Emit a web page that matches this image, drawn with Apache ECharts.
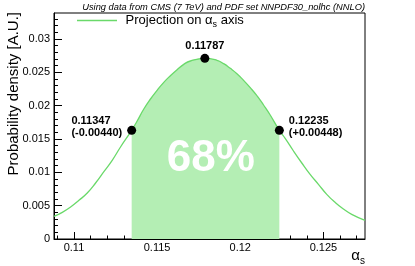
<!DOCTYPE html>
<html>
<head>
<meta charset="utf-8">
<script src="https://cdn.jsdelivr.net/npm/echarts@6/dist/echarts.min.js"></script>
<style>
html,body{margin:0;padding:0;background:#fff;}
#c{width:415px;height:266px;}
</style>
</head>
<body>
<div id="c"></div>
<script>
// ---- data ----
const curveX = [0.1088, 0.1093, 0.1098, 0.1103, 0.1108, 0.1113, 0.1118, 0.1123, 0.1128, 0.11347,
  0.1138, 0.1142, 0.1146, 0.1150, 0.1154, 0.1158, 0.1162, 0.1166, 0.1170, 0.11787,
  0.1186, 0.1190, 0.1194, 0.1198, 0.1202, 0.1206, 0.1210, 0.1214, 0.1218, 0.12235,
  0.1227, 0.1232, 0.1237, 0.1242, 0.1247, 0.1252, 0.1257, 0.1262, 0.1267, 0.1275];
const curveY = [0.0034, 0.0040, 0.0048, 0.0058, 0.0069, 0.0084, 0.0101, 0.0118, 0.0138, 0.0163,
  0.0177, 0.0195, 0.0210, 0.0223, 0.0235, 0.0245, 0.0254, 0.0262, 0.0267, 0.0271,
  0.0268, 0.0263, 0.0256, 0.0248, 0.0238, 0.0227, 0.0215, 0.0201, 0.0186, 0.0163,
  0.0151, 0.0132, 0.0114, 0.0097, 0.0082, 0.0067, 0.0055, 0.0045, 0.0037, 0.0028];
const bandLow = 0.11347;
const bandHigh = 0.12235;
const pointX = [0.11347, 0.11787, 0.12235];
const pointY = [0.0163, 0.0271, 0.0163];
const pointText = [['0.11347', '(-0.00440)'], ['0.11787'], ['0.12235', '(+0.00448)']];
const xMajorTicks = [0.11, 0.115, 0.12, 0.125];
const xMinorTicks = [0.109, 0.111, 0.112, 0.113, 0.114, 0.116, 0.117, 0.118, 0.119,
  0.121, 0.122, 0.123, 0.124, 0.126, 0.127];
const yMajorTicks = [0, 0.005, 0.01, 0.015, 0.02, 0.025, 0.03];
const yMinorTicks = [0.001, 0.002, 0.003, 0.004, 0.006, 0.007, 0.008, 0.009, 0.011, 0.012,
  0.013, 0.014, 0.016, 0.017, 0.018, 0.019, 0.021, 0.022, 0.023, 0.024, 0.026, 0.027,
  0.028, 0.029, 0.031, 0.032, 0.033];
const seriesName = 'Projection on αs axis';
const titleText = 'Using data from CMS (7 TeV) and PDF set NNPDF30_nolhc (NNLO)';
const yTitle = 'Probability density [A.U.]';
const bandText = '68%';

const X_MIN = 0.1088, X_MAX = 0.1275, Y_MIN = 0, Y_MAX = 0.0339;
const FONT = 'Liberation Sans, Arial, Helvetica, sans-serif';
const LINE_COLOR = '#6ad96a';
const FILL_COLOR = '#b4eeb4';

const curve = curveX.map((x, i) => [x, curveY[i]]);
const band = curve.filter(p => p[0] >= bandLow - 1e-9 && p[0] <= bandHigh + 1e-9);
const posName = ['left', 'top', 'right'];
const points = pointX.map((x, i) => ({
  value: [x, pointY[i]],
  label: {
    position: posName[i],
    distance: i === 1 ? 2 : 5,
    offset: i === 1 ? [0, 0] : [0, -3],
    formatter: pointText[i].map(t => '{t|' + t + '}').join('\n')
  }
}));

const chart = echarts.init(document.getElementById('c'), null, {renderer: 'canvas'});
const mkXAxis = (ticks, len, labels, line) => ({
  type: 'value', min: X_MIN, max: X_MAX, position: 'bottom',
  axisLine: {show: line, onZero: false, lineStyle: {color: '#000', width: 1}},
  axisTick: {show: true, inside: true, length: len, customValues: ticks, lineStyle: {color: '#000'}},
  axisLabel: labels ? {show: true, customValues: ticks, fontSize: 11, color: '#000', fontFamily: FONT, margin: 3} : {show: false},
  splitLine: {show: false}
});
const mkYAxis = (ticks, len, labels, line) => ({
  type: 'value', min: Y_MIN, max: Y_MAX, position: 'left',
  axisLine: {show: line, onZero: false, lineStyle: {color: '#000', width: 1}},
  axisTick: {show: true, inside: true, length: len, customValues: ticks, lineStyle: {color: '#000'}},
  axisLabel: labels ? {show: true, customValues: ticks, fontSize: 11, color: '#000', fontFamily: FONT, margin: 4} : {show: false},
  splitLine: {show: false}
});

chart.setOption({
  animation: false,
  backgroundColor: '#fff',
  grid: {left: 54, top: 13, width: 311, height: 226, show: true, borderColor: '#000', borderWidth: 1, containLabel: false},
  xAxis: [mkXAxis(xMajorTicks, 7, true, true), mkXAxis(xMinorTicks, 3.5, false, false)],
  yAxis: [mkYAxis(yMajorTicks, 8, true, true), mkYAxis(yMinorTicks, 4, false, false)],
  legend: {
    data: [seriesName], left: 77, top: 14, icon: 'rect', itemWidth: 40, itemHeight: 1.5,
    itemGap: 0, padding: 0,
    formatter: () => '{n| Projection on }{a|α}{s|s}{n| axis}',
    textStyle: {
      color: '#000', fontFamily: FONT, fontSize: 13,
      rich: {
        n: {fontSize: 13, fontFamily: FONT, color: '#000'},
        a: {fontSize: 13, fontFamily: FONT, color: '#000'},
        s: {fontSize: 9, fontFamily: FONT, color: '#000', padding: [8, 0, 0, 0]}
      }
    }
  },
  series: [
    {
      type: 'line', name: 'band', data: band, smooth: 0.5, showSymbol: false, silent: true,
      lineStyle: {width: 0, opacity: 0}, areaStyle: {color: FILL_COLOR, opacity: 1, origin: 'start'}, z: 1
    },
    {
      type: 'line', name: seriesName, data: curve, smooth: 0.5, showSymbol: false,
      lineStyle: {color: LINE_COLOR, width: 1.3}, itemStyle: {color: LINE_COLOR}, z: 2
    },
    {
      type: 'scatter', name: 'points', data: points, symbolSize: 9, itemStyle: {color: '#000', opacity: 1}, z: 5,
      label: {
        show: true, color: '#000', fontFamily: FONT, fontSize: 11, fontWeight: 'bold', lineHeight: 12,
        rich: {t: {align: 'left', fontFamily: FONT, fontSize: 11, fontWeight: 'bold', lineHeight: 12, color: '#000'}}
      }
    }
  ],
  graphic: [
    {type: 'text', x: 365, y: 7, style: {text: titleText, font: 'italic 9.3px ' + FONT, fill: '#000', align: 'right', verticalAlign: 'middle'}},
    {type: 'text', x: 14, y: 12, rotation: Math.PI / 2, style: {text: yTitle, font: '15px ' + FONT, fill: '#000', align: 'right', verticalAlign: 'middle'}},
    {type: 'text', x: 360, y: 256, style: {text: 'α', font: '15px ' + FONT, fill: '#000', align: 'right', verticalAlign: 'middle'}},
    {type: 'text', x: 360, y: 261, style: {text: 's', font: '10px ' + FONT, fill: '#000', align: 'left', verticalAlign: 'middle'}},
    {type: 'text', x: 210.8, y: 159, z: 10, style: {text: bandText, font: 'bold 44px ' + FONT, fill: '#fff', align: 'center', verticalAlign: 'middle'}}
  ]
});
</script>
</body>
</html>
